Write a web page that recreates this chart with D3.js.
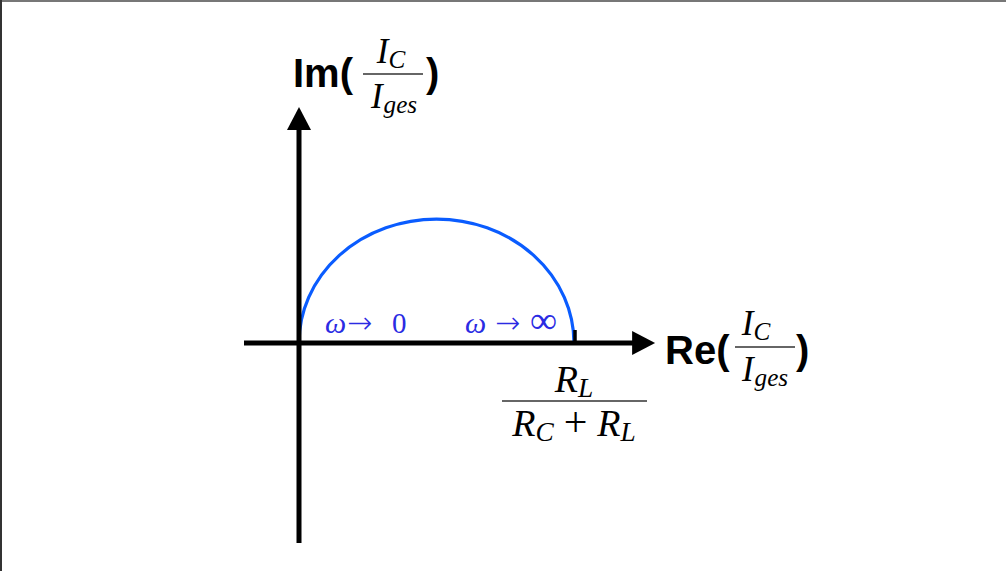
<!DOCTYPE html>
<html>
<head>
<meta charset="utf-8">
<script src="https://cdn.jsdelivr.net/npm/d3@7"></script>
<style>
  html, body { margin: 0; padding: 0; background: #fff; }
  svg { display: block; }
</style>
</head>
<body>
<svg id="chart" width="1006" height="571"></svg>
<script>
// Locus of I_C / I_ges in the complex plane (normalised so R_L/(R_C+R_L) = 1)
const reExtent = [-0.2, 1.295];      // drawn span of the real axis
const imExtent = [-0.806, 0.952];    // drawn span of the imaginary axis
const locusEnds = [0, 1];            // ω → 0 and ω → ∞ on the real axis
const locusCenter = [0.5, 0];        // centre of the semicircle
const locusRadius = 0.5;
const endLabels = [["ω", "→", "0"], ["ω", "→", "∞"]];

const svg = d3.select("#chart");
const W = 1006, H = 571;

const x = d3.scaleLinear().domain([0, 1]).range([299, 574]);
const y = d3.scaleLinear().domain([0, 0.5]).range([343, 219]);

// frame lines
svg.append("line").attr("x1", 0).attr("x2", W).attr("y1", 1).attr("y2", 1)
  .attr("stroke", "#777").attr("stroke-width", 2);
svg.append("line").attr("x1", 1).attr("x2", 1).attr("y1", 0).attr("y2", H)
  .attr("stroke", "#333").attr("stroke-width", 2);

// semicircle locus
const rx = x(locusCenter[0] + locusRadius) - x(locusCenter[0]);
const ry = y(locusCenter[1]) - y(locusCenter[1] + locusRadius);
svg.append("path")
  .attr("d", `M${x(locusEnds[0])},${y(0)} A${rx},${ry} 0 0 1 ${x(locusEnds[1])},${y(0)}`)
  .attr("fill", "none").attr("stroke", "#0a5cff").attr("stroke-width", 3.2);

// axes with arrowheads
const axisW = 5, headLen = 23, headHalf = 12;
svg.append("line")
  .attr("x1", x(reExtent[0])).attr("x2", x(reExtent[1]) - headLen + 2)
  .attr("y1", y(0)).attr("y2", y(0))
  .attr("stroke", "#000").attr("stroke-width", axisW);
svg.append("path")
  .attr("d", `M${x(reExtent[1])},${y(0)} L${x(reExtent[1]) - headLen},${y(0) - headHalf} L${x(reExtent[1]) - headLen},${y(0) + headHalf} Z`)
  .attr("fill", "#000");

const yTop = y(0) - (y(0) - y(0.5)) * 2 * imExtent[1];
const yBot = y(0) - (y(0) - y(0.5)) * 2 * imExtent[0];
svg.append("line")
  .attr("x1", x(0)).attr("x2", x(0))
  .attr("y1", yBot).attr("y2", yTop + headLen - 2)
  .attr("stroke", "#000").attr("stroke-width", axisW);
svg.append("path")
  .attr("d", `M${x(0)},${yTop} L${x(0) - headHalf},${yTop + headLen} L${x(0) + headHalf},${yTop + headLen} Z`)
  .attr("fill", "#000");

// tick at R_L/(R_C+R_L)
svg.append("line")
  .attr("x1", x(locusEnds[1]) + 1).attr("x2", x(locusEnds[1]) + 1)
  .attr("y1", y(0)).attr("y2", y(0) - 13)
  .attr("stroke", "#000").attr("stroke-width", 3.5);

// ω limit labels: symbol, arrow, limit value placed along the baseline
const mathFont = "'Liberation Serif', 'Times New Roman', serif";
const boldFont = "'Liberation Sans', Arial, sans-serif";
const omegaBlue = "#2b2be3";
const omegaPos = [[325, 347, 392], [465, 495, 530]];
endLabels.forEach((parts, i) => {
  const t = svg.append("text").attr("y", 333)
    .attr("font-family", mathFont).attr("font-size", 30).attr("fill", omegaBlue);
  t.append("tspan").attr("x", omegaPos[i][0]).attr("font-style", "italic").text(parts[0]);
  t.append("tspan").attr("x", omegaPos[i][1]).attr("font-family", "'DejaVu Sans', sans-serif")
    .attr("font-size", 30).attr("font-weight", 200).text(parts[1]);
  t.append("tspan").attr("x", omegaPos[i][2])
    .attr("font-size", i === 1 ? 38 : 29).text(parts[2]);
});

function addParts(text, parts, size) {
  parts.forEach(p => {
    const ts = text.append("tspan").text(p.t);
    if (p.italic) ts.attr("font-style", "italic");
    if (p.sub) ts.attr("font-size", size * 0.72).attr("baseline-shift", "-20%");
    if (p.size) ts.attr("font-size", p.size);
    if (p.dx) ts.attr("dx", p.dx);
  });
}

function fracLabel(o) {
  const g = svg.append("g");
  const n = g.append("text").attr("x", o.numX).attr("y", o.numBase)
    .attr("font-family", mathFont).attr("font-size", o.size)
    .attr("text-anchor", "middle").attr("fill", "#000");
  addParts(n, o.num, o.size);
  g.append("line").attr("x1", o.x0).attr("x2", o.x1)
    .attr("y1", o.barY).attr("y2", o.barY)
    .attr("stroke", "#333").attr("stroke-width", 1.4);
  const d = g.append("text").attr("x", o.denX).attr("y", o.denBase)
    .attr("font-family", mathFont).attr("font-size", o.size)
    .attr("text-anchor", "middle").attr("fill", "#000");
  addParts(d, o.den, o.size);
  return g;
}

const ratioNum = [{ t: "I", italic: true }, { t: "C", italic: true, sub: true }];
const ratioDen = [{ t: "I", italic: true }, { t: "ges", italic: true, sub: true, dx: 1 }];

// Im( I_C / I_ges )
svg.append("text").attr("x", 293).attr("y", 87)
  .attr("font-family", boldFont).attr("font-weight", "bold").attr("font-size", 40)
  .text("Im(");
fracLabel({
  x0: 363, x1: 423, barY: 74, numX: 391, denX: 394,
  numBase: 63, denBase: 108, size: 35, num: ratioNum, den: ratioDen
});
svg.append("text").attr("x", 426).attr("y", 87)
  .attr("font-family", boldFont).attr("font-weight", "bold").attr("font-size", 40)
  .text(")");

// Re( I_C / I_ges )
svg.append("text").attr("x", 665).attr("y", 364)
  .attr("font-family", boldFont).attr("font-weight", "bold").attr("font-size", 40)
  .text("Re(");
fracLabel({
  x0: 735, x1: 795, barY: 347, numX: 756, denX: 765,
  numBase: 335, denBase: 381, size: 35, num: ratioNum, den: ratioDen
});
svg.append("text").attr("x", 796).attr("y", 364)
  .attr("font-family", boldFont).attr("font-weight", "bold").attr("font-size", 40)
  .text(")");

// R_L / (R_C + R_L) under the tick
fracLabel({
  x0: 502, x1: 647, barY: 401, numX: 574, denX: 574,
  numBase: 392, denBase: 436, size: 38,
  num: [{ t: "R", italic: true }, { t: "L", italic: true, sub: true }],
  den: [{ t: "R", italic: true }, { t: "C", italic: true, sub: true },
        { t: "+", size: 42, dx: 10 }, { t: "R", italic: true, dx: 10 },
        { t: "L", italic: true, sub: true }]
});
</script>
</body>
</html>
